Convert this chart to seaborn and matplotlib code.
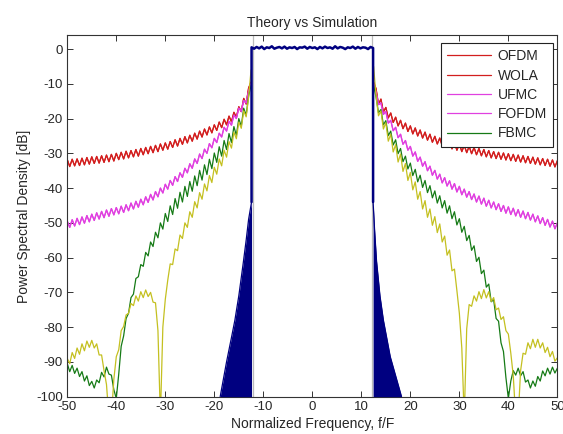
import numpy as np
import pandas as pd
import matplotlib
matplotlib.use("Agg")
import matplotlib.pyplot as plt
from matplotlib.lines import Line2D
import seaborn as sns

# side-band frequency grids (normalized frequency, f/F)
freq_left = np.arange(-50, -12.4, 0.5)
freq_right = np.arange(12.5, 50.1, 0.5)

# OFDM / WOLA (red)
ofdm_left = [-31.8, -33.8, -31.7, -33.6, -31.6, -33.5, -31.4, -33.3, -31.2, -33.1,
             -31.0, -32.9, -30.9, -32.8, -30.7, -32.6, -30.5, -32.4, -30.3, -32.2,
             -30.0, -31.8, -29.7, -31.6, -29.4, -31.3, -29.2, -31.0, -28.9, -30.8,
             -28.6, -30.4, -28.3, -30.1, -28.0, -29.8, -27.7, -29.5, -27.3, -29.1,
             -27.0, -28.8, -26.6, -28.3, -26.1, -27.9, -25.7, -27.4, -25.2, -27.0,
             -24.8, -26.5, -24.2, -25.9, -23.6, -25.3, -23.0, -24.7, -22.4, -24.1,
             -21.8, -23.4, -21.0, -22.6, -20.2, -21.8, -19.3, -20.9, -18.2, -19.6,
             -16.6, -18.0, -14.2, -15.8, -11.2, -9.5]
ofdm_right = [-9.5, -11.4, -15.9, -14.4, -18.1, -16.8, -19.8, -18.4, -21.1, -19.6,
              -22.1, -20.5, -22.9, -21.3, -23.7, -22.1, -24.4, -22.7, -25.0, -23.3,
              -25.6, -23.9, -26.2, -24.5, -26.8, -25.1, -27.3, -25.6, -27.8, -26.1,
              -28.3, -26.5, -28.7, -27.0, -29.1, -27.3, -29.5, -27.7, -29.8, -28.0,
              -30.1, -28.3, -30.4, -28.6, -30.7, -28.9, -31.0, -29.2, -31.3, -29.5,
              -31.5, -29.7, -31.7, -29.9, -31.9, -30.1, -32.1, -30.3, -32.3, -30.5,
              -32.5, -30.7, -32.7, -30.9, -32.9, -31.1, -33.1, -31.3, -33.3, -31.5,
              -33.5, -31.7, -33.7, -31.9, -33.9, -32.1]

# UFMC / FOFDM (magenta)
ufmc_left = [-49.5, -51.3, -49.1, -50.9, -48.7, -50.5, -48.3, -50.1, -47.9, -49.7,
             -47.5, -49.3, -47.1, -48.9, -46.7, -48.5, -46.3, -48.1, -45.9, -47.7,
             -45.6, -47.4, -45.2, -47.0, -44.8, -46.5, -44.3, -46.0, -43.8, -45.5,
             -43.2, -44.8, -42.5, -44.1, -41.8, -43.4, -41.0, -42.5, -40.0, -41.4,
             -38.9, -40.3, -37.8, -39.2, -36.7, -38.1, -35.6, -36.9, -34.3, -35.6,
             -33.0, -34.3, -31.6, -32.9, -30.2, -31.5, -28.8, -30.0, -27.2, -28.4,
             -25.7, -26.9, -24.2, -25.3, -22.5, -23.6, -20.8, -21.9, -19.0, -20.0,
             -17.0, -17.9, -14.8, -15.5, -12.2, -10.0]
ufmc_right = [-10.0, -12.5, -16.0, -15.5, -18.8, -18.0, -21.3, -20.5, -23.5, -22.5,
              -25.5, -24.5, -27.4, -26.3, -29.1, -28.0, -30.8, -29.6, -32.3, -31.1,
              -33.7, -32.4, -35.0, -33.7, -36.3, -34.9, -37.4, -36.0, -38.5, -37.0,
              -39.4, -37.9, -40.3, -38.7, -41.1, -39.5, -41.9, -40.3, -42.6, -41.0,
              -43.3, -41.7, -44.0, -42.3, -44.6, -42.9, -45.2, -43.5, -45.7, -44.0,
              -46.2, -44.5, -46.7, -45.0, -47.2, -45.4, -47.6, -45.8, -48.0, -46.2,
              -48.4, -46.6, -48.8, -47.0, -49.2, -47.5, -49.7, -48.0, -50.2, -48.5,
              -50.7, -49.0, -51.2, -49.5, -51.7, -50.0]

# FBMC (green)
fbmc_left = [-90.5, -92.8, -91.0, -93.3, -91.8, -94.2, -92.8, -95.5, -94.0, -96.8,
             -95.6, -97.5, -95.2, -96.0, -93.0, -94.3, -91.5, -93.5, -93.8, -98.0,
             -100.5, -93.5, -85.5, -82.5, -77.5, -76.0, -71.5, -70.5, -66.0, -65.5,
             -62.0, -62.5, -58.5, -59.5, -55.5, -56.8, -52.7, -54.3, -50.0, -51.8,
             -47.3, -49.6, -45.1, -47.6, -43.0, -45.8, -41.2, -44.0, -39.5, -42.4,
             -38.1, -40.9, -36.5, -39.3, -34.9, -37.7, -33.3, -36.1, -31.7, -34.4,
             -29.9, -32.6, -28.1, -30.8, -26.3, -28.9, -24.3, -26.9, -22.3, -24.8,
             -20.0, -22.2, -17.0, -19.0, -13.5, -10.5]
fbmc_right = [-10.5, -13.8, -18.3, -17.4, -21.8, -20.6, -24.9, -23.6, -27.6, -26.1,
              -30.1, -28.6, -32.4, -30.8, -34.5, -32.8, -36.4, -34.6, -38.2, -36.3,
              -39.8, -37.8, -41.3, -39.3, -42.8, -40.8, -44.3, -42.2, -45.7, -43.6,
              -47.2, -45.1, -48.8, -46.8, -50.6, -48.8, -52.7, -51.0, -55.1, -53.6,
              -57.9, -56.6, -61.1, -59.9, -64.6, -63.6, -68.5, -67.6, -72.7, -72.1,
              -77.5, -78.3, -84.5, -87.0, -94.5, -100.5, -95.5, -92.5, -93.8, -91.8,
              -94.0, -92.8, -95.8, -95.2, -97.5, -95.5, -97.0, -94.2, -95.5, -92.6,
              -94.0, -91.8, -93.5, -91.5, -93.2, -91.8]

# unlabeled yellow curve
yellow_left = [-89.0, -90.5, -87.3, -89.0, -86.0, -87.8, -84.8, -86.8, -84.0, -85.8,
               -83.8, -86.0, -84.8, -88.0, -88.0, -92.5, -96.5, -106.0, -106.0, -95.0,
               -88.5, -86.5, -81.0, -79.8, -76.5, -76.0, -73.2, -73.8, -71.0, -72.5,
               -69.8, -71.5, -69.3, -71.2, -70.0, -72.8, -73.0, -81.0, -106.0, -80.0,
               -72.0, -66.5, -61.8, -62.0, -57.5, -58.0, -53.5, -54.5, -50.0, -51.3,
               -46.8, -48.4, -43.9, -45.7, -41.3, -43.2, -38.8, -40.8, -36.4, -38.4,
               -34.0, -36.0, -31.6, -33.6, -29.1, -31.1, -26.6, -28.5, -23.9, -25.8,
               -21.0, -22.8, -17.8, -19.5, -13.8, -6.0]
yellow_right = [-5.0, -13.5, -19.2, -17.8, -23.0, -21.2, -26.5, -24.5, -29.6, -27.5,
                -32.5, -30.2, -35.2, -32.9, -37.8, -35.5, -40.5, -38.2, -43.2, -41.0,
                -46.0, -43.6, -48.4, -46.0, -50.7, -48.2, -52.8, -50.3, -55.5, -53.8,
                -59.3, -57.8, -63.8, -63.3, -69.5, -76.0, -86.0, -106.0, -80.5, -73.5,
                -74.0, -71.0, -72.5, -69.8, -71.8, -69.2, -71.6, -69.8, -72.6, -71.5,
                -75.0, -74.5, -77.8, -77.0, -81.0, -82.0, -87.5, -94.0, -106.0, -106.0,
                -92.5, -87.5, -87.8, -84.5, -86.2, -83.5, -85.8, -83.5, -86.0, -84.5,
                -87.3, -85.8, -88.5, -87.0, -89.8, -88.8]

# theory (navy): steep skirts + in-band level
navy_left_f = [-18.8, -17.5, -16.5, -15.8, -15.0, -14.1, -13.5, -13.0, -12.4]
navy_left_db = [-100, -90, -83, -78, -71, -61.6, -55, -49, -44]
navy_right_f = [12.4, 12.7, 13.1, 13.8, 14.5, 15.9, 17.0, 18.2]
navy_right_db = [-44, -52, -61, -71, -78, -88.5, -94, -100]
navy_pass_f = np.linspace(-12.4, 12.4, 49)
navy_pass_db = [0.5, 0.1, 0.6, 0.2, 0.7, 0.0, 0.5, 0.3, 0.8, 0.1,
                0.4, 0.6, 0.2, 0.7, 0.1, 0.5, 0.3, 0.6, 0.0, 0.5,
                0.4, 0.7, 0.1, 0.6, 0.3, 0.5, 0.0, 0.6, 0.2, 0.7,
                0.3, 0.5, 0.1, 0.8, 0.2, 0.6, 0.4, 0.0, 0.5, 0.3,
                0.7, 0.1, 0.6, 0.2, 0.5, 0.4, 0.0, 0.6, 0.3]
band_edges = [-12.2, 12.2]

labels = ["OFDM", "WOLA", "UFMC", "FOFDM", "FBMC"]
colors = ["#d21e1e", "#d21e1e", "#e040e0", "#e040e0", "#157a15"]
yellow = "#c4c020"
navy = "#000080"

def side_frame(left_db, right_db):
    return pd.concat([
        pd.DataFrame({"freq": freq_left, "db": left_db, "side": "L"}),
        pd.DataFrame({"freq": freq_right, "db": right_db, "side": "R"}),
    ], ignore_index=True)

curves = [side_frame(ofdm_left, ofdm_right), side_frame(ofdm_left, ofdm_right),
          side_frame(ufmc_left, ufmc_right), side_frame(ufmc_left, ufmc_right),
          side_frame(fbmc_left, fbmc_right)]

sns.set_theme(style="ticks")
plt.rcParams["font.family"] = ["Liberation Sans", "DejaVu Sans"]
plt.rcParams["axes.unicode_minus"] = False
plt.rcParams["xtick.direction"] = "in"
plt.rcParams["ytick.direction"] = "in"

fig = plt.figure(figsize=(5.63, 4.34), dpi=100)
ax = fig.add_axes([0.1195, 0.086, 0.8705, 0.833])

for x in band_edges:
    ax.axvline(x, color="#bbbbbb", lw=0.9, zorder=1)

for df, c in zip(curves, colors):
    sns.lineplot(data=df, x="freq", y="db", units="side", estimator=None,
                 sort=False, color=c, lw=0.9, ax=ax, legend=False)
sns.lineplot(data=side_frame(yellow_left, yellow_right), x="freq", y="db",
             units="side", estimator=None, sort=False, color=yellow, lw=0.9,
             ax=ax, legend=False)

# navy theory curve: filled skirts, line through the passband
ax.fill_between(navy_left_f, navy_left_db, -100, color=navy, lw=0, zorder=3)
ax.fill_between(navy_right_f, navy_right_db, -100, color=navy, lw=0, zorder=3)
ax.plot(navy_left_f, navy_left_db, color=navy, lw=0.9, zorder=3)
ax.plot(navy_right_f, navy_right_db, color=navy, lw=0.9, zorder=3)
ax.plot([navy_left_f[-1]] + list(navy_pass_f) + [navy_right_f[0]],
        [navy_left_db[-1]] + navy_pass_db + [navy_right_db[0]],
        color=navy, lw=1.8, zorder=4)

ax.set_xlim(-50, 50)
ax.set_ylim(-100, 4)
ax.set_xticks(range(-50, 51, 10))
ax.set_yticks(range(-100, 1, 10))
ax.tick_params(axis="both", which="both", direction="in", length=4, width=0.7,
               top=True, right=True, labelsize=9.5, pad=3, color="#333333")
for s in ax.spines.values():
    s.set_color("#333333")
    s.set_linewidth(0.8)

ax.set_title("Theory vs Simulation", fontsize=10, pad=6)
ax.set_xlabel("Normalized Frequency, f/F", fontsize=10, labelpad=3)
ax.set_ylabel("Power Spectral Density [dB]", fontsize=10, labelpad=4)

handles = [Line2D([], [], color=c, lw=0.9) for c in colors]
leg = ax.legend(handles, labels, loc="upper right", bbox_to_anchor=(0.991, 0.978),
                borderaxespad=0, fancybox=False, framealpha=1, edgecolor="#222222",
                fontsize=10, handlelength=3.2, handletextpad=0.45, labelspacing=0.38,
                borderpad=0.45)
leg.get_frame().set_linewidth(0.8)

plt.savefig("out.png", dpi=100)
plt.close()
